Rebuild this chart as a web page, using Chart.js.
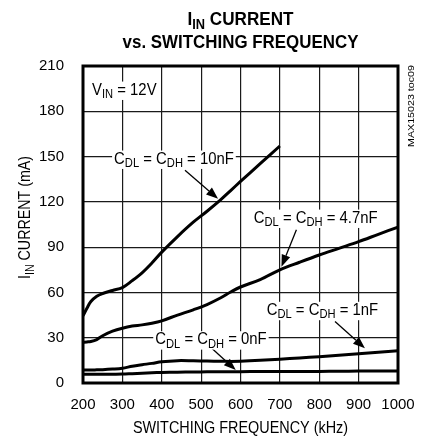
<!DOCTYPE html>
<html>
<head>
<meta charset="utf-8">
<script src="https://cdn.jsdelivr.net/npm/chart.js@4"></script>
<style>
  body { margin: 0; background: #fff; }
</style>
</head>
<body>
<canvas id="inputCurrent" width="428" height="442"></canvas>
<script>
// switching frequency (kHz) shared by every curve
const freq = [200, 210, 220, 235, 250, 275, 300, 325, 350, 375, 400, 440, 480, 515, 550, 575, 600, 650, 700, 750, 800, 850, 900, 950, 1000];

// input current (mA) per gate load
const cap10nF = [44.5, 49.5, 54, 57.5, 59.3, 61.3, 63.2, 67.8, 73, 79.5, 86.7, 97, 106.5, 113.8, 121.5, 127.5, 133.5, 145.3, 157, null, null, null, null, null, null];
const cap4n7F = [27, 27.2, 27.5, 28.8, 31.3, 34.3, 36.3, 37.7, 38.5, 39.6, 41.2, 45, 48.5, 52, 56.5, 60.3, 63.6, 68.5, 75, 80, 84.8, 89.2, 93.6, 98.5, 103.3];
const cap1nF = [8.6, 8.6, 8.6, 8.7, 8.8, 9.2, 9.8, 11.1, 12.1, 13, 14.1, 14.8, 14.7, 14.5, 14.4, 14.3, 14.4, 15, 15.8, 16.6, 17.4, 18.4, 19.4, 20.4, 21.4];
const cap0nF = [5.8, 5.8, 5.8, 5.8, 5.8, 5.85, 5.9, 6.2, 6.5, 6.8, 7.0, 7.2, 7.3, 7.4, 7.4, 7.5, 7.5, 7.6, 7.6, 7.7, 7.7, 7.8, 7.9, 7.9, 8.0];

const xRange = [200, 1000];
const yRange = [0, 210];

const FONT = "'Liberation Sans Narrow', 'Arial Narrow', 'Liberation Sans', Arial, sans-serif";

// curve labels, anchored in data units (freq, mA); arrow = [fromX, fromY, tipX, tipY]
const notes = [
  { parts: [['V'], ['IN', 1], [' = 12V']], x: 223, y: 191, align: 'left' },
  { parts: [['C'], ['DL', 1], [' = C'], ['DH', 1], [' = 10nF']], x: 431, y: 145.3, arrow: [459, 141, 543, 122] },
  { parts: [['C'], ['DL', 1], [' = C'], ['DH', 1], [' = 4.7nF']], x: 791, y: 106.2, arrow: [742, 101.5, 704, 77] },
  { parts: [['C'], ['DL', 1], [' = C'], ['DH', 1], [' = 1nF']], x: 808, y: 45.1, arrow: [840, 40.7, 916, 23] },
  { parts: [['C'], ['DL', 1], [' = C'], ['DH', 1], [' = 0nF']], x: 525, y: 25.6, arrow: [527, 23, 588, 8.6] }
];

const toPoints = (vals) => freq.map((f, i) => ({ x: f, y: vals[i] }));

const font = (size, bold) => (bold ? 'bold ' : '') + size + 'px ' + FONT;

// text with subscripts; sx squeezes it sideways (the original face is a narrow one)
const drawRich = (ctx, parts, x, y, size, align, opts = {}) => {
  const sx = opts.sx || 1;
  const widths = parts.map(p => {
    ctx.font = font(p[1] ? size * 0.75 : size, opts.bold);
    return ctx.measureText(p[0]).width * sx;
  });
  const total = widths.reduce((a, b) => a + b, 0);
  let left = align === 'left' ? x : x - total / 2;
  if (opts.bg) {
    ctx.fillStyle = '#fff';
    ctx.fillRect(left - 2, y - size * 0.82, total + 4, size * 1.15);
  }
  ctx.fillStyle = '#000';
  ctx.textAlign = 'left';
  ctx.textBaseline = 'alphabetic';
  parts.forEach((p, i) => {
    ctx.save();
    ctx.font = font(p[1] ? size * 0.75 : size, opts.bold);
    ctx.translate(left, p[1] ? y + size * 0.22 : y);
    ctx.scale(sx, 1);
    ctx.fillText(p[0], 0, 0);
    ctx.restore();
    left += widths[i];
  });
};

const drawArrow = (ctx, x1, y1, x2, y2) => {
  const ang = Math.atan2(y2 - y1, x2 - x1);
  const len = 12, half = 4.5;
  const bx = x2 - len * Math.cos(ang), by = y2 - len * Math.sin(ang);
  ctx.strokeStyle = '#000';
  ctx.lineWidth = 1.3;
  ctx.beginPath();
  ctx.moveTo(x1, y1);
  ctx.lineTo(bx, by);
  ctx.stroke();
  ctx.fillStyle = '#000';
  ctx.beginPath();
  ctx.moveTo(x2, y2);
  ctx.lineTo(bx + half * Math.sin(ang), by - half * Math.cos(ang));
  ctx.lineTo(bx - half * Math.sin(ang), by + half * Math.cos(ang));
  ctx.closePath();
  ctx.fill();
};

const decorations = {
  id: 'decorations',
  afterDatasetsDraw(chart) {
    const { ctx, chartArea: a, scales: { x, y } } = chart;
    ctx.save();
    notes.forEach(n => {
      if (n.arrow) {
        drawArrow(ctx, x.getPixelForValue(n.arrow[0]), y.getPixelForValue(n.arrow[1]),
          x.getPixelForValue(n.arrow[2]), y.getPixelForValue(n.arrow[3]));
      }
      drawRich(ctx, n.parts, x.getPixelForValue(n.x), y.getPixelForValue(n.y), 16, n.align, { bg: true, sx: 0.93 });
    });
    // frame
    ctx.strokeStyle = '#000';
    ctx.lineWidth = 3;
    ctx.strokeRect(a.left, a.top, a.right - a.left, a.bottom - a.top);
    ctx.restore();
  },
  afterDraw(chart) {
    const { ctx, chartArea: a } = chart;
    const mid = (a.left + a.right) / 2;
    ctx.save();
    drawRich(ctx, [['I'], ['IN', 1], [' CURRENT']], mid, 25, 19, 'center', { bold: true, sx: 0.9 });
    drawRich(ctx, [['vs. SWITCHING FREQUENCY']], mid, 48, 19, 'center', { bold: true, sx: 0.89 });
    drawRich(ctx, [['SWITCHING FREQUENCY (kHz)']], mid, 433, 16, 'center', { sx: 0.9 });

    ctx.translate(30, (a.top + a.bottom) / 2 - 7);
    ctx.rotate(-Math.PI / 2);
    drawRich(ctx, [['I'], ['IN', 1], [' CURRENT (mA)']], 0, 0, 16, 'center', { sx: 0.89 });
    ctx.restore();

    ctx.save();
    ctx.translate(414, 106);
    ctx.rotate(-Math.PI / 2);
    ctx.font = font(9);
    const w = ctx.measureText('MAX15023 toc09').width;
    ctx.scale(82 / w, 1);
    ctx.fillStyle = '#000';
    ctx.textAlign = 'center';
    ctx.fillText('MAX15023 toc09', 0, 0);
    ctx.restore();
  }
};

const axisStyle = {
  grid: { color: '#1a1a1a', lineWidth: 1.2, drawTicks: false },
  border: { display: false },
  ticks: { color: '#000', font: { family: FONT, size: 15 } }
};

const config = {
  type: 'line',
  data: {
    datasets: [
      { label: '10nF', data: toPoints(cap10nF) },
      { label: '4.7nF', data: toPoints(cap4n7F) },
      { label: '1nF', data: toPoints(cap1nF) },
      { label: '0nF', data: toPoints(cap0nF) }
    ]
  },
  options: {
    responsive: false,
    animation: false,
    events: [],
    layout: { padding: { left: 0, right: 30, top: 66, bottom: 0 } },
    elements: {
      line: { borderColor: '#000', borderWidth: 3, tension: 0.35, fill: false },
      point: { radius: 0 }
    },
    plugins: {
      legend: { display: false },
      tooltip: { enabled: false }
    },
    scales: {
      x: {
        ...axisStyle,
        type: 'linear',
        min: xRange[0],
        max: xRange[1],
        ticks: {
          ...axisStyle.ticks,
          stepSize: 100,
          padding: 13,
          maxRotation: 0,
          autoSkip: false,
          callback: (v) => String(v)
        },
        afterFit: (s) => { s.height = 59; }
      },
      y: {
        ...axisStyle,
        type: 'linear',
        min: yRange[0],
        max: yRange[1],
        ticks: { ...axisStyle.ticks, stepSize: 30, padding: 19 },
        afterFit: (s) => { s.width = 83; }
      }
    }
  },
  plugins: [decorations]
};

new Chart(document.getElementById('inputCurrent'), config);
</script>
</body>
</html>
